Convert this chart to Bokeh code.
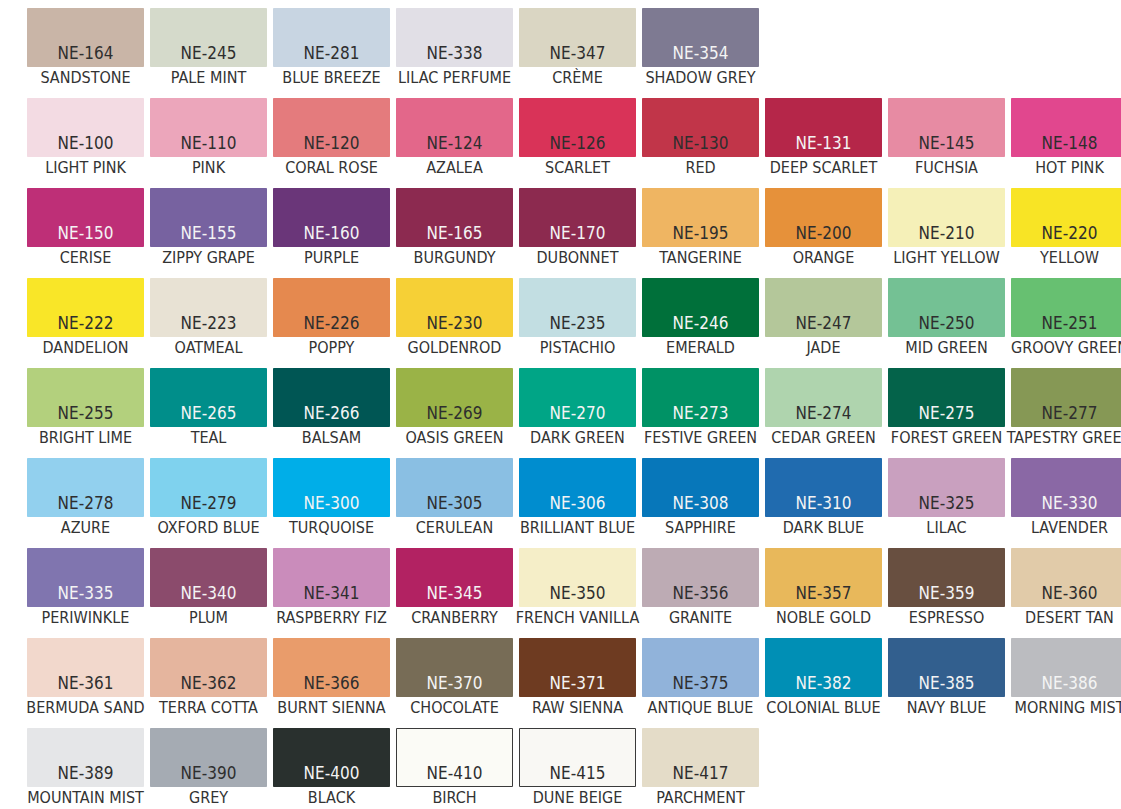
from bokeh.plotting import figure
from bokeh.models import ColumnDataSource, Range1d
from bokeh.core.properties import value
from bokeh.embed import file_html
from bokeh.resources import INLINE

# Palette rows (9 swatches per row)
codes = [
    ["NE-164", "NE-245", "NE-281", "NE-338", "NE-347", "NE-354"],
    ["NE-100", "NE-110", "NE-120", "NE-124", "NE-126", "NE-130", "NE-131", "NE-145", "NE-148"],
    ["NE-150", "NE-155", "NE-160", "NE-165", "NE-170", "NE-195", "NE-200", "NE-210", "NE-220"],
    ["NE-222", "NE-223", "NE-226", "NE-230", "NE-235", "NE-246", "NE-247", "NE-250", "NE-251"],
    ["NE-255", "NE-265", "NE-266", "NE-269", "NE-270", "NE-273", "NE-274", "NE-275", "NE-277"],
    ["NE-278", "NE-279", "NE-300", "NE-305", "NE-306", "NE-308", "NE-310", "NE-325", "NE-330"],
    ["NE-335", "NE-340", "NE-341", "NE-345", "NE-350", "NE-356", "NE-357", "NE-359", "NE-360"],
    ["NE-361", "NE-362", "NE-366", "NE-370", "NE-371", "NE-375", "NE-382", "NE-385", "NE-386"],
    ["NE-389", "NE-390", "NE-400", "NE-410", "NE-415", "NE-417"],
]
names = [
    ["SANDSTONE", "PALE MINT", "BLUE BREEZE", "LILAC PERFUME", "CRÈME", "SHADOW GREY"],
    ["LIGHT PINK", "PINK", "CORAL ROSE", "AZALEA", "SCARLET", "RED", "DEEP SCARLET", "FUCHSIA", "HOT PINK"],
    ["CERISE", "ZIPPY GRAPE", "PURPLE", "BURGUNDY", "DUBONNET", "TANGERINE", "ORANGE", "LIGHT YELLOW", "YELLOW"],
    ["DANDELION", "OATMEAL", "POPPY", "GOLDENROD", "PISTACHIO", "EMERALD", "JADE", "MID GREEN", "GROOVY GREEN"],
    ["BRIGHT LIME", "TEAL", "BALSAM", "OASIS GREEN", "DARK GREEN", "FESTIVE GREEN", "CEDAR GREEN", "FOREST GREEN", "TAPESTRY GREEN"],
    ["AZURE", "OXFORD BLUE", "TURQUOISE", "CERULEAN", "BRILLIANT BLUE", "SAPPHIRE", "DARK BLUE", "LILAC", "LAVENDER"],
    ["PERIWINKLE", "PLUM", "RASPBERRY FIZ", "CRANBERRY", "FRENCH VANILLA", "GRANITE", "NOBLE GOLD", "ESPRESSO", "DESERT TAN"],
    ["BERMUDA SAND", "TERRA COTTA", "BURNT SIENNA", "CHOCOLATE", "RAW SIENNA", "ANTIQUE BLUE", "COLONIAL BLUE", "NAVY BLUE", "MORNING MIST"],
    ["MOUNTAIN MIST", "GREY", "BLACK", "BIRCH", "DUNE BEIGE", "PARCHMENT"],
]
colors = [
    ["#C9B5A7", "#D5DACB", "#C8D5E2", "#E1DFE6", "#DAD6C3", "#7E7A92"],
    ["#F3DBE3", "#ECA6BB", "#E47B7D", "#E3678A", "#D93358", "#C13549", "#B52649", "#E78BA3", "#E1478E"],
    ["#BE2F77", "#7762A0", "#6A3679", "#8C2A50", "#8C2A4F", "#EFB562", "#E6913A", "#F5F0B8", "#F8E425"],
    ["#F9E628", "#E8E2D4", "#E5894F", "#F6D036", "#C2DEE2", "#00703A", "#B4C79A", "#74C194", "#67C071"],
    ["#B3D07D", "#008E8A", "#005654", "#9AB347", "#00A586", "#009265", "#AFD4AE", "#04634A", "#869855"],
    ["#92D0EE", "#7FD2EE", "#00AEE8", "#8ABFE3", "#008DCF", "#0777BA", "#206BAF", "#C9A0BF", "#8A68A5"],
    ["#8075AF", "#8B4B6C", "#CA8CBB", "#B22262", "#F5EEC8", "#BDABB4", "#E8B85B", "#684F40", "#E1CBA9"],
    ["#F2D8CC", "#E5B59E", "#E99C6B", "#776C56", "#6E3B21", "#91B3DA", "#008FB5", "#325F8E", "#BBBCC0"],
    ["#E5E6E8", "#A5ABB3", "#29302E", "#FBFBF6", "#F9F8F4", "#E4DCC8"],
]
# codes printed in white on the darker swatches
light_text_codes = ["NE-354", "NE-131", "NE-150", "NE-155", "NE-160", "NE-165", "NE-170",
                    "NE-246", "NE-265", "NE-266", "NE-270", "NE-273", "NE-275",
                    "NE-300", "NE-306", "NE-308", "NE-310", "NE-330",
                    "NE-335", "NE-340", "NE-345", "NE-359",
                    "NE-370", "NE-371", "NE-382", "NE-385", "NE-386", "NE-400"]
outlined_codes = ["NE-410", "NE-415"]

xs, ys, cs, ns, fills, tcols, lcols = [], [], [], [], [], [], []
for r, row in enumerate(codes):
    for c, code in enumerate(row):
        xs.append(c)
        ys.append(r)
        cs.append(code)
        ns.append(names[r][c])
        fills.append(colors[r][c])
        tcols.append("#F4F4F4" if code in light_text_codes else "#2E2E2E")
        lcols.append("#3A3A3A" if code in outlined_codes else colors[r][c])

src = ColumnDataSource(dict(x=xs, y=ys, code=cs, name=ns, fill=fills, tcol=tcols, lcol=lcols,
                            ycode=[y + 0.167 for y in ys], yname=[y + 0.445 for y in ys]))

W, H = 1121, 809
px_x, px_y = 123.0, 90.0
x0 = -85.0 / px_x
y0 = -37.0 / px_y
p = figure(width=W, height=H, output_backend="svg", toolbar_location=None,
           x_range=Range1d(x0, x0 + W / px_x), y_range=Range1d(y0 + H / px_y, y0),
           min_border=0, outline_line_color=None, background_fill_color="white")
p.axis.visible = False
p.grid.visible = False

p.rect(x="x", y="y", width=116 / px_x, height=58 / px_y, source=src,
       fill_color="fill", line_color="lcol", line_width=1)

font = value("DejaVu Sans Condensed, Roboto Condensed, Roboto, sans-serif")
p.text(x="x", y="ycode", text="code", source=src, text_color="tcol",
       text_align="center", text_baseline="middle", text_font=font, text_font_size="17px")
p.text(x="x", y="yname", text="name", source=src, text_color="#333333",
       text_align="center", text_baseline="middle", text_font=font, text_font_size="16px")

html = file_html(p, INLINE)
html = html.replace("<head>", "<head><style>html,body{overflow:hidden;}</style>", 1)
open("out.html", "w").write(html)
